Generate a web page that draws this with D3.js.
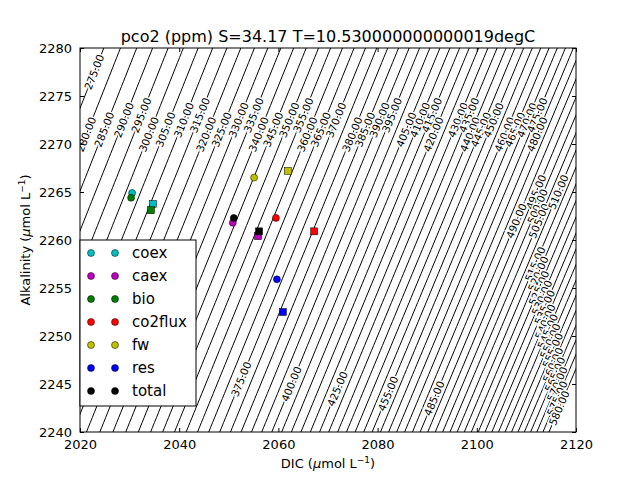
<!DOCTYPE html>
<html><head><meta charset="utf-8">
<script src="https://cdn.jsdelivr.net/npm/d3@7.9.0/dist/d3.min.js"></script>
<style>
body{margin:0;background:#fff;}
text{font-family:"DejaVu Sans",sans-serif;}
</style></head>
<body><svg id="chart" width="640" height="480"></svg>
<script>
const S = 34.17, T = 10.530000000000019;
const levels = d3.range(275, 581, 5);
const names = ['coex','caex','bio','co2flux','fw','res','total'];
const colors = ['#00bfbf','#bf00bf','#007f00','#ff0000','#bfbf00','#0000ff','#000000'];
// [DIC, Alk] for circle (start) and square (end) markers
const circlePts = [[2030.5,2264.9],[2050.8,2261.8],[2030.3,2264.4],[2059.5,2262.3],[2055.1,2266.5],[2059.7,2255.9],[2051.0,2262.3]];
const squarePts = [[2034.7,2263.75],[2055.9,2260.4],[2034.3,2263.1],[2067.2,2260.9],[2061.9,2267.2],[2060.9,2252.5],[2056.1,2260.9]];
const xTicks = [2020,2040,2060,2080,2100,2120];
const yTicks = d3.range(2240, 2281, 5);

// carbonate system constants
const TK = T + 273.15, lnT = Math.log(TK), sq = Math.sqrt(S);
const K1 = Math.pow(10, -(3633.86/TK - 61.2172 + 9.6777*lnT - 0.011555*S + 0.0001152*S*S));
const K2 = Math.pow(10, -(471.78/TK + 25.9290 - 3.16967*lnT - 0.01781*S + 0.0001122*S*S));
const T100 = TK/100;
const K0 = Math.exp(-60.2409 + 93.4517/T100 + 23.3585*Math.log(T100) + S*(0.023517 - 0.023656*T100 + 0.0047036*T100*T100));
const KB = Math.exp((-8966.90 - 2890.53*sq - 77.942*S + 1.728*S*sq - 0.0996*S*S)/TK + 148.0248 + 137.1942*sq + 1.62142*S
  - (24.4344 + 25.085*sq + 0.2474*S)*lnT + 0.053105*sq*TK);
const KW = Math.exp(148.9802 - 13847.26/TK - 23.6521*lnT + (-5.977 + 118.67/TK + 1.0495*lnT)*sq - 0.01615*S);
const TB = 0.000416*S/35;

function pco2(dic, alk) {
  const C = dic*1e-6, A = alk*1e-6;
  let lo = 6, hi = 10;
  for (let i = 0; i < 60; i++) {
    const pH = (lo+hi)/2, H = Math.pow(10, -pH);
    const d = H*H + K1*H + K1*K2;
    const a = C*(K1*H + 2*K1*K2)/d + TB*KB/(KB+H) + KW/H - H;
    if (a > A) hi = pH; else lo = pH;
  }
  const H = Math.pow(10, -(lo+hi)/2);
  return C*H*H/(H*H + K1*H + K1*K2)/K0*1e6;
}
function dicFor(level, alk) {
  let lo = 1950, hi = 2200;
  for (let i = 0; i < 50; i++) { const m = (lo+hi)/2; if (pco2(m, alk) > level) hi = m; else lo = m; }
  // small offset to match the reference's constant set
  return (lo+hi)/2 - (7.5 + (alk-2245)*0.078);
}

const svg = d3.select('#chart');
const m = {left:80, right:576, top:48, bottom:432};
const x = d3.scaleLinear().domain([2020,2120]).range([m.left, m.right]);
const y = d3.scaleLinear().domain([2240,2280]).range([m.bottom, m.top]);

svg.append('clipPath').attr('id','clip').append('rect')
  .attr('x', m.left).attr('y', m.top).attr('width', m.right-m.left).attr('height', m.bottom-m.top);

const alks = d3.range(2238, 2282.1, 0.5);
const line = d3.line().x(d => x(d[0])).y(d => y(d[1]));
const contours = levels.map(l => ({level: l, pts: alks.map(a => [dicFor(l, a), a])}));

const cg = svg.append('g').attr('clip-path','url(#clip)');
cg.selectAll('path').data(contours).join('path')
  .attr('d', d => line(d.pts)).attr('fill','none').attr('stroke','#000').attr('stroke-width',1);

// inline labels
const lowLabels = [375,400,425,455,485];
function labelPos(d) {
  const vis = d.pts.filter(p => p[0] >= 2021 && p[0] <= 2119 && p[1] >= 2240.5 && p[1] <= 2279.5);
  if (!vis.length) return null;
  let targetAlk;
  if (lowLabels.includes(d.level)) targetAlk = 2245.5 - (d.level-375)*0.02;
  else if (d.level <= 480) targetAlk = 2271 + ((d.level/5)%4)*0.7;
  else if (d.level <= 510) targetAlk = 2265 - ((d.level/5)%3)*1.5;
  else targetAlk = 2257.5 - (d.level-515)*0.23;
  let p = vis.reduce((b, q) => Math.abs(q[1]-targetAlk) < Math.abs(b[1]-targetAlk) ? q : b);
  if (Math.abs(p[1]-targetAlk) > 0.6) p = vis[Math.floor(vis.length/2)];
  const i = d.pts.indexOf(p);
  const p2 = d.pts[Math.min(i+1, d.pts.length-1)], p1 = d.pts[Math.max(i-1,0)];
  const ang = Math.atan2(y(p2[1])-y(p1[1]), x(p2[0])-x(p1[0]))*180/Math.PI;
  return {x: x(p[0]), y: y(p[1]), a: ang < -90 ? ang+180 : (ang > 90 ? ang-180 : ang)};
}
const lab = svg.append('g').attr('clip-path','url(#clip)');
contours.forEach(d => {
  const p = labelPos(d); if (!p) return;
  lab.append('text').attr('transform', `translate(${p.x},${p.y}) rotate(${p.a})`)
    .attr('text-anchor','middle').attr('dy','0.35em').attr('font-size',10.5)
    .attr('stroke','#fff').attr('stroke-width',3).attr('paint-order','stroke')
    .text(d.level.toFixed(2));
});

// markers
const mg = svg.append('g');
circlePts.forEach((p,i) => mg.append('circle').attr('cx', x(p[0])).attr('cy', y(p[1])).attr('r',3.5)
  .attr('fill', colors[i]).attr('stroke','#000').attr('stroke-width',0.5));
squarePts.forEach((p,i) => mg.append('rect').attr('x', x(p[0])-3.5).attr('y', y(p[1])-3.5).attr('width',7).attr('height',7)
  .attr('fill', colors[i]).attr('stroke','#000').attr('stroke-width',0.5));

// frame and axes
svg.append('rect').attr('x', m.left).attr('y', m.top).attr('width', m.right-m.left).attr('height', m.bottom-m.top)
  .attr('fill','none').attr('stroke','#000');
const xa = svg.append('g').attr('transform',`translate(0,${m.bottom})`)
  .call(d3.axisBottom(x).tickValues(xTicks).tickSize(-4).tickPadding(8).tickFormat(d3.format('d')));
const xt = svg.append('g').attr('transform',`translate(0,${m.top})`)
  .call(d3.axisTop(x).tickValues(xTicks).tickSize(-4).tickFormat(''));
const ya = svg.append('g').attr('transform',`translate(${m.left},0)`)
  .call(d3.axisLeft(y).tickValues(yTicks).tickSize(-4).tickPadding(8).tickFormat(d3.format('d')));
const yr = svg.append('g').attr('transform',`translate(${m.right},0)`)
  .call(d3.axisRight(y).tickValues(yTicks).tickSize(-4).tickFormat(''));
[xa,xt,ya,yr].forEach(g => { g.select('.domain').remove(); g.selectAll('text').attr('font-size',13).attr('fill','#000'); });

svg.append('text').attr('x', 328).attr('y', 468).attr('text-anchor','middle').attr('font-size',13)
  .html('DIC (<tspan font-style="italic">μ</tspan>mol L<tspan dy="-5" font-size="9">−1</tspan><tspan dy="5">)</tspan>');
svg.append('text').attr('transform','translate(30,240) rotate(-90)').attr('text-anchor','middle').attr('font-size',13)
  .html('Alkalinity (<tspan font-style="italic">μ</tspan>mol L<tspan dy="-5" font-size="9">−1</tspan><tspan dy="5">)</tspan>');
svg.append('text').attr('x', 328).attr('y', 42).attr('text-anchor','middle').attr('font-size',16)
  .text(`pco2 (ppm) S=${S} T=${T}degC`);

// legend
const lg = svg.append('g');
lg.append('rect').attr('x',80).attr('y',240).attr('width',116).attr('height',166).attr('fill','#fff').attr('stroke','#000');
names.forEach((n,i) => {
  const yy = 253 + i*23;
  [91,115].forEach(cx => lg.append('circle').attr('cx',cx).attr('cy',yy).attr('r',3.5).attr('fill',colors[i]).attr('stroke','#000').attr('stroke-width',0.5));
  lg.append('text').attr('x',132).attr('y',yy+5).attr('font-size',15).text(n);
});
</script></body></html>
